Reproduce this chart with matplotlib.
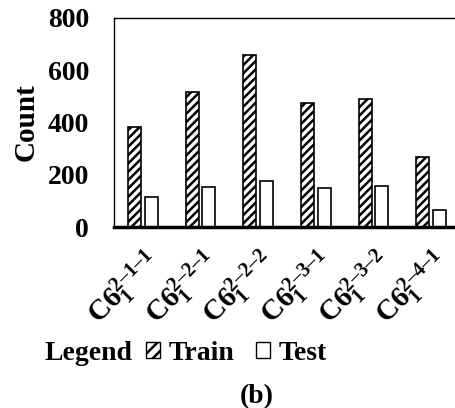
import numpy as np
import matplotlib.pyplot as plt
from matplotlib.patches import Patch

plt.rcParams['font.family'] = 'Liberation Serif'
plt.rcParams['font.weight'] = 'bold'
plt.rcParams['mathtext.fontset'] = 'custom'
plt.rcParams['mathtext.rm'] = 'Liberation Serif:bold'
plt.rcParams['mathtext.it'] = 'Liberation Serif:bold'
plt.rcParams['mathtext.bf'] = 'Liberation Serif:bold'
plt.rcParams['hatch.linewidth'] = 1.8

# data
categories = ['2-1-1', '2-2-1', '2-2-2', '2-3-1', '2-3-2', '2-4-1']
train = [381, 518, 658, 473, 491, 268]
test = [115, 152, 178, 149, 158, 64]

tick_labels = ['C6' + r'$_{\mathrm{1}}^{\mathrm{' + c.replace('-', '\u2013') + '}}$'
               for c in categories]

fig = plt.figure(figsize=(4.56, 4.08), dpi=100)
ax = fig.add_axes([0.25, 0.4436, 0.759, 0.5123])

x = np.arange(len(categories))
w = 0.225
ax.bar(x - 0.145, train, w, color='white', edgecolor='black', hatch='////', linewidth=1.2)
ax.bar(x + 0.145, test, w, color='white', edgecolor='black', linewidth=1.2)

ax.set_xlim(-0.5, len(categories) - 0.5)
ax.set_ylim(0, 800)
ax.set_yticks([0, 200, 400, 600, 800])
ax.tick_params(axis='y', length=0, pad=18, labelsize=20)
ax.tick_params(axis='x', length=0, pad=13, labelsize=21)
ax.set_xticks(x)
ax.set_xticklabels(tick_labels, rotation=45, ha='right', rotation_mode='anchor')
ax.set_ylabel('Count', fontsize=21, fontweight='bold', labelpad=6)

for s in ['top', 'left', 'right']:
    ax.spines[s].set_linewidth(1.0)
ax.spines['bottom'].set_linewidth(2.5)

fig.text(45 / 456, 1 - 353 / 408, 'Legend', fontsize=20, fontweight='bold', va='center', ha='left')
handles = [Patch(facecolor='white', edgecolor='black', hatch='///', label='Train'),
           Patch(facecolor='white', edgecolor='black', label='Test')]
fig.legend(handles=handles, loc='center left', bbox_to_anchor=(146 / 456, 1 - 353 / 408),
           ncol=2, frameon=False, fontsize=20, handlelength=0.5, handleheight=0.5,
           handletextpad=0.3, columnspacing=0.8, borderaxespad=0, borderpad=0)
fig.text(257 / 456, 1 - 397 / 408, '(b)', fontsize=20, fontweight='bold', va='center', ha='center')

fig.savefig('out.png', dpi=100)
